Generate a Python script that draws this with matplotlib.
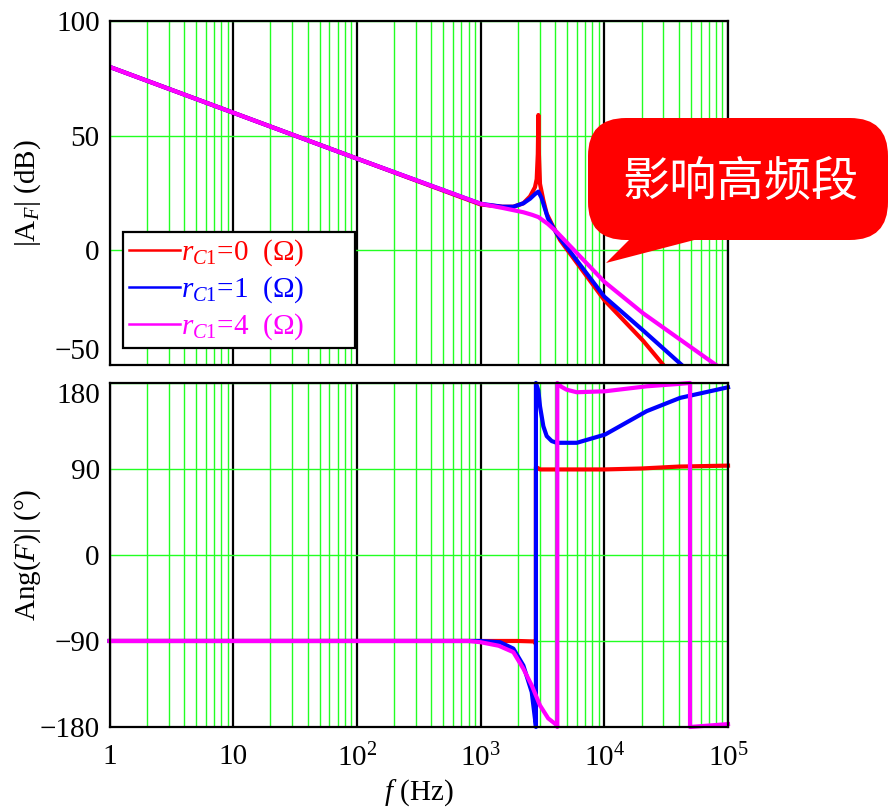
import matplotlib
matplotlib.use('Agg')
import matplotlib.pyplot as plt
from matplotlib.patches import FancyBboxPatch, Polygon
from matplotlib.ticker import LogLocator, NullFormatter

plt.rcParams['font.family'] = ['Liberation Serif', 'DejaVu Serif']
plt.rcParams['mathtext.fontset'] = 'custom'
plt.rcParams['mathtext.rm'] = 'Liberation Serif'
plt.rcParams['mathtext.it'] = 'Liberation Serif:italic'
plt.rcParams['axes.unicode_minus'] = True

# --- data ----------------------------------------------------------------
# trailing blanks give the legend box its extra room on the right
labels = [r'$r_{C\mathregular{1}}$=0  (Ω)       ',
          r'$r_{C\mathregular{1}}$=1  (Ω)       ',
          r'$r_{C\mathregular{1}}$=4  (Ω)       ']
colors = ['#ff0000', '#0000ff', '#ff00ff']

# magnitude (dB)
mag_f_r0 = [1, 10, 100, 1000, 1500, 1840, 2215, 2510, 2750, 2840, 2900, 2930,
            2960, 3020, 3210, 3420, 3800, 4385, 10000, 20650, 30000]
mag_r0 = [80, 60, 40, 20, 19, 19, 20.5, 23.5, 27.5, 31, 42, 59,
          42, 29, 22, 16, 11, 4.5, -21.7, -39.5, -50]

mag_f_r1 = [1, 10, 100, 1000, 1500, 1840, 2215, 2510, 2750, 2930, 3100,
            3210, 3500, 3900, 4385, 10000, 20650, 42300]
mag_r1 = [80, 60, 40, 20.3, 19, 19, 20.5, 22.5, 24.5, 25.6, 23,
          20.5, 14, 9.5, 5.2, -20.2, -35, -50]

mag_f_r4 = [1, 10, 100, 1000, 1500, 2215, 2600, 2930, 3500, 4124, 4385,
            10000, 20650, 40000, 80000]
mag_r4 = [80, 60, 40, 20.3, 18.5, 16.6, 15.5, 14.5, 11.5, 8, 6.5,
          -13.7, -27.5, -38.5, -50]

# phase (deg), the jumps are wraps of +-180
ph_f_r0 = [1, 100, 1000, 2000, 2700, 2780, 2800, 2800, 2900, 3020, 4124,
           10000, 20000, 40000, 100000]
ph_r0 = [-90, -90, -90, -90, -90.5, -91, -94, 92, 91, 89.5, 89.5,
         89.5, 90.5, 92.5, 93.5]

ph_f_r1 = [1, 100, 1000, 1435, 1840, 2215, 2590, 2754, 2800, 2800, 2930,
           3020, 3214, 3422, 3756, 4124, 6000, 10140, 22000, 41000, 100000]
ph_r1 = [-90, -90, -90, -91.3, -98, -115.6, -143.5, -172, -180, 180, 172,
         155.7, 134.8, 124.4, 119.2, 117.4, 117.4, 126, 150.5, 164.4, 175.5]

ph_f_r4 = [1, 100, 800, 1000, 1400, 1840, 2215, 2590, 3020, 3520, 4124,
           4170, 4170, 4500, 4950, 5980, 10140, 22000, 40000, 49300, 49300,
           100000]
ph_r4 = [-90, -90, -90, -91.3, -95, -101.7, -119, -136.5, -157.4, -171, -178,
         -180, 180, 176, 173, 170.3, 171.3, 176.5, 179, 180, -180,
         -177]

xticks = [1, 10, 100, 1000, 10000, 100000]
xtick_labels = ['1', '10', r'$\mathregular{10^{2}}$', r'$\mathregular{10^{3}}$',
                r'$\mathregular{10^{4}}$', r'$\mathregular{10^{5}}$']
mag_ticks = [-50, 0, 50, 100]
ph_ticks = [-180, -90, 0, 90, 180]

# --- figure ----------------------------------------------------------------
fig = plt.figure(figsize=(8.89, 8.10), dpi=100)
ax1 = fig.add_axes([0.1232, 0.5494, 0.6957, 0.4247])
ax2 = fig.add_axes([0.1232, 0.1025, 0.6957, 0.4247])

GREEN = '#22ff22'
for ax in (ax1, ax2):
    ax.set_xscale('log')
    ax.set_xlim(1, 1e5)
    ax.set_xticks(xticks)
    ax.xaxis.set_minor_locator(LogLocator(base=10, subs=range(2, 10), numticks=20))
    ax.xaxis.set_minor_formatter(NullFormatter())
    ax.set_axisbelow(True)
    ax.grid(which='minor', axis='x', color=GREEN, lw=1.0)
    ax.grid(which='major', axis='x', color='black', lw=1.6)
    ax.grid(which='major', axis='y', color=GREEN, lw=1.0)
    ax.tick_params(which='both', length=0, labelsize=21, pad=7)
    for s in ax.spines.values():
        s.set_linewidth(1.6)

# magnitude
for f, m, c, lab in zip([mag_f_r0, mag_f_r1, mag_f_r4], [mag_r0, mag_r1, mag_r4],
                        colors, labels):
    ax1.plot(f, m, color=c, lw=3, label=lab)
ax1.set_ylim(-50, 100)
ax1.set_yticks(mag_ticks)
ax1.set_xticklabels([])
ax1.set_ylabel(r'|A$_{F}$| (dB)', fontsize=21)
ax1.yaxis.set_label_coords(-0.108, 0.5)
# -50 sits above its line, so it does not run into 180 below
ax1.yaxis.get_major_ticks()[0].label1.set_verticalalignment('bottom')

leg = ax1.legend(loc='lower left', bbox_to_anchor=(0.0218, 0.049), borderaxespad=0,
                 fontsize=21, fancybox=False, framealpha=1, edgecolor='black',
                 handlelength=1.75, handletextpad=0.05, labelspacing=0.22,
                 borderpad=0.2)
leg.get_frame().set_linewidth(1.6)
for t, ln in zip(leg.get_texts(), leg.get_lines()):
    t.set_color(ln.get_color())
    ln.set_linewidth(1.8)

# phase
for f, p, c in zip([ph_f_r0, ph_f_r1, ph_f_r4], [ph_r0, ph_r1, ph_r4], colors):
    ax2.plot(f, p, color=c, lw=3, clip_on=False)
ax2.set_ylim(-180, 180)
ax2.set_yticks(ph_ticks)
ax2.yaxis.get_major_ticks()[-1].label1.set_verticalalignment('top')
ax2.set_xticklabels(xtick_labels)
ax2.tick_params(axis='x', pad=12)
ax2.set_ylabel(r'Ang($F$)| (°)', fontsize=21)
ax2.yaxis.set_label_coords(-0.108, 0.5)
ax2.set_xlabel(r'$f$ (Hz)', fontsize=21)
ax2.xaxis.set_label_coords(0.5, -0.145)

# speech bubble
tr = fig.dpi_scale_trans
bubble = FancyBboxPatch((5.88, 5.70), 3.0, 1.22,
                        boxstyle='round,pad=0,rounding_size=0.38',
                        fc='#ff0000', ec='none', transform=tr, zorder=10)
tail = Polygon([(6.06, 5.47), (6.37, 5.78), (7.25, 5.78)], closed=True,
               fc='#ff0000', ec='none', transform=tr, zorder=10)
fig.add_artist(bubble)
fig.add_artist(tail)
fig.text(7.40, 6.27, '影响高频段', transform=tr, color='white', fontsize=34,
         family=['Noto Sans CJK SC', 'DejaVu Sans'], ha='center', va='center',
         zorder=11)

fig.savefig('out.png', dpi=100)
